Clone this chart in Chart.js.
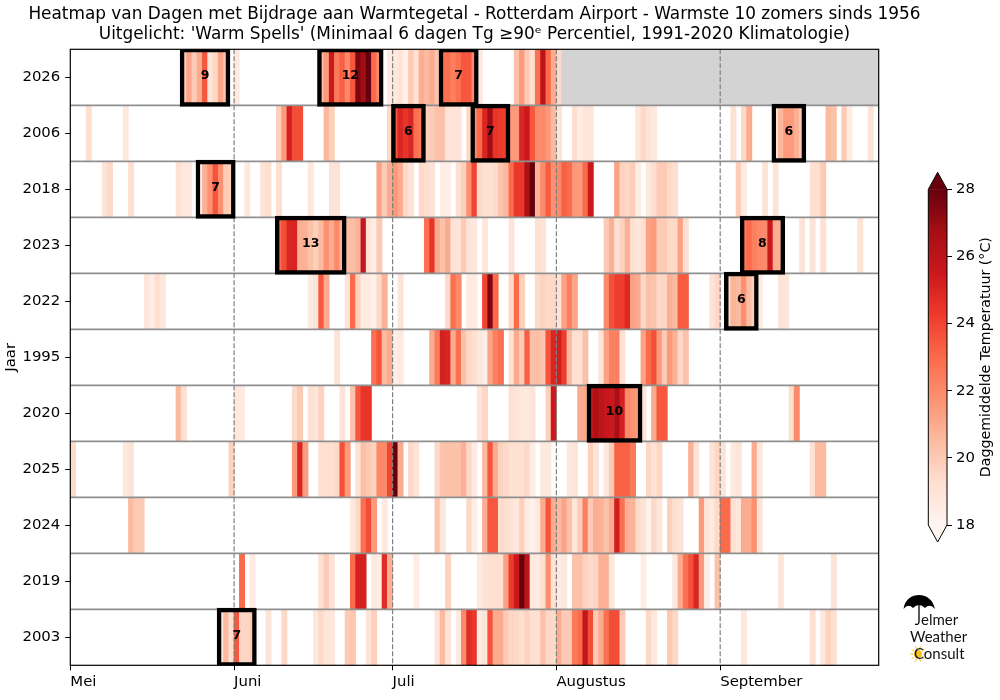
<!DOCTYPE html>
<html>
<head>
<meta charset="utf-8">
<script src="https://cdn.jsdelivr.net/npm/chart.js@4/dist/chart.umd.min.js"></script>
<style>
  body { margin: 0; background: #fff; }
  #wrap { position: relative; width: 1000px; height: 700px; }
  #heat { position: absolute; left: 0; top: 0; }
  #bar { position: absolute; left: 900px; top: 150px; }
</style>
</head>
<body>
<div id="wrap">
  <canvas id="heat" width="1000" height="700"></canvas>
  <canvas id="bar" width="100" height="420"></canvas>
</div>
<script>
const years = ['2026', '2006', '2018', '2023', '2022', '1995', '2020', '2025', '2024', '2019', '2003'];
const monthNames = ['Mei', 'Juni', 'Juli', 'Augustus', 'September'];
const monthStarts = [0, 31, 61, 92, 123];
const seasonDays = 153;
const lastDay2026 = 93; // after this day no data yet

const titleLines = [
    'Heatmap van Dagen met Bijdrage aan Warmtegetal - Rotterdam Airport - Warmste 10 zomers sinds 1956',
    "Uitgelicht: 'Warm Spells' (Minimaal 6 dagen Tg ≥90ᵉ Percentiel, 1991-2020 Klimatologie)"
];

// each run: first day (0 = 1 mei), then the Tg of the following days
const t2026 = [[21,19.8,21.2,20,21,23.5,19,19.6,21.2,20.3],[31,18.7],[47,20.5,21.5,25.5,22.5,23.3,22,23.5,27.5,26.8,28,23,22],[60,18.6,18.7,19,18.3,20,19.2,20.9,20.5,21,20.2,22.8,22.8,22.3,22.8,23.5,23.5,22,18.7],[84,20.3,21.5,20,19.3,22.8,26,23,21,19.5]];
const t2006 = [[3,19.3],[10,18.7],[39,19.8,21.5,25.2,23.8,23.8],[48,20.6,19.8],[60,19.5,23.5,25,24.5,25,22.8,22.5,19.8,20,20.3,20.3,19,19,19],[75,19.5,22,23,25,26.8,24.5,24.3,24.2,21.5,21.5,25,25.5,23.5,22,22,21.5,20.5,19],[95,19.3,18.5,18.9,18.9],[107,18.9,19.5,19.1,18.7],[125,19.2],[127,19.5,21],[133,19.2,20.6,21.5,21.5,20.8,20],[143,20.5,20.3],[146,20,18.5],[151,19]];
const t2018 = [[6,19,19.5],[11,19.2],[20,19.2,18.8,18.8],[24,18.3,20.8,21.8,23.6,21.8,20,19.8],[33,18.7],[36,19.1,19.3],[39,19.3],[45,18.8],[49,19,19],[58,21.2,20,21,21.6,21,19.5,19],[66,19.5,19.3,19],[70,18.4,18.4],[73,19.3,19.8,21.8,24,19.5,19.2,19.2,19.4,20.2,20.6,23,24.4,24.4,26.5,28,20.7,22,23.4,21.8,22,23.3,23,21.6,21.5,23,25.5],[103,21.3,19.7,19.6,19.9,18.5],[109,18.7,19.3,20,20,19.5,19.3],[126,19.9,18.6],[131,19.1],[133,19],[140,19.2,19.3,20]];
const t2023 = [[39,22.8,23.8,25,25.1,20.8,20.8,20.3,19.8,20.5,21.8,21,22,20.7,20.4,20.4,20.7,25.7,19,18.5,20],[67,22.8,24.5,21,20.3,21,19,19,20,19,18.8],[78,18.9],[83,19],[88,19.3,19],[101,20,20.8,19.2,19.7,20.8,19.2,18.8,19.3,21.3,21.5,20,20,19.5,19.5,21.3,19.3],[127,22.5,23,22.3,22,22,25.5,21,20.8],[138,19],[140,19],[142,19.2],[149,19.1]];
const t2022 = [[14,18.9,18.4,19.3,18.8],[45,18.6,19,23.5,21],[52,19.1,23,19.7,18.6,18.6,18.3,19.5,20.8],[62,19],[71,19.5,22.8,22],[75,18.6,18.5],[78,24,27.5,23],[83,19.5,23,19.8],[88,19.4,19.7,19.5,19.5,19,21.3,22.3,21.2],[101,22,23.7,24.2,24.2,24.9,21.3,21,19.5,20.3,20.2,19.5,19.6,20.8,20.5,23.4,23.4],[121,19,19.5],[124,19.5,20.7,20.5,21.8,20.4,19.8,18.5],[134,19,18.9]];
const t1995 = [[50,19],[57,22.8,23.6,20.5,21,18.4,18.7],[68,21,22.5,25.2,25,21,22.8,20.3,19.5,19.3,18.8,18.4,21.2,22.3,22.8],[83,19.2,21,20,23.3,20.3,20.4,20.2,23.6,25,25.3,24.2,20.5,19.3,19.2,20.3],[100,19,21.3,22.3,22.3,19.2],[108,21.3,23,23.7,21.5,20,21.5,20.8,19.5,20.3]];
const t2020 = [[20,20.5,19.2],[31,18.8,18.6],[42,19.4,20],[45,19.2,18.9,19.7],[51,19],[53,20.2,23.5,24.5,24.5],[77,19,19.6],[83,19.2,19,18.8,18.7,19],[90,19.8,25.5],[96,21,21,25.8,26.5,26,25.6,25.5,26.6,25.2,22,21.7,21.6,19],[110,21,23.5,23.5],[136,19.3,22]];
const t2025 = [[0,19.5],[10,18.7,19],[30,19.7],[42,21.5,25,21.4],[47,19.3,19.3,19.3,19.5,23.7,21.5],[54,19.2,20.4,20,19.7,22,22,24,28,21],[64,19.5,19],[69,19.5,20.2,20.3,20.3,20.3,20.8,19.5,18.6],[78,20.5,23.5,21,19.7,19.5,19.2,19.2,19.2,19.5,18.5],[89,18.7,18.7],[94,18.8,19],[98,19.8,19],[101,18.8,20,23.2,23.2,23.2,22.5],[109,19.6,19,19.6],[117,20.8,19],[121,19,19.6,19],[125,18.7,19],[129,21,18.7],[140,19.2,20.5,20.5]];
const t2024 = [[11,20.5,20,20],[53,18.7,19.5,22.8,23.8,21.5],[59,18.7],[69,20.2,18.8],[75,19.5,18.4],[78,20.9,23.5,23.5,19.4,19.3,19.1,18.8,19.8,18.6,18.2,18.7,21,23.6,21,20.5,21.2,20.3,18.9,19.9,22.3,20,20.9,20.8,20.3,21,25.3,22.8,20.8,20.7,19.4,19,18.3,19.5,18.9],[113,19.8,19.3,19],[119,21.5,19,18.7,19.5,23,23,19.2,18.8,21,21,21.8,19]];
const t2019 = [[32,23],[34,18.6],[47,19.2,20,19],[53,23,25.2,25.2],[57,18.7,18.5,24.8,20.8],[65,18.5],[71,19.7],[77,18.7,19,19.3,19.3,19.2,21.3,24.3,25.5,28,26,18.7,18.6,19.2,21.8,19,18.6,18.8],[95,20.3,20.3,19.7,19.5,19.6,20.8,20.8,18.7],[108,18.4],[114,18.7,21,22.8,23.7,25,21.5,18.5],[122,20.3],[134,18.9],[144,19]];
const t2003 = [[28,18.9,20.5,19.3,23.5,19.6,19.6,20],[37,19],[40,19.5],[46,18.8,19.5,18.9,18.9],[52,20,20.1],[56,19,19.8],[69,19,20.5,19],[73,18.6,22,24.8,24.4,18.6,19,23.6,21,21,20,19.6,19.5,19.3,19.7,19.3,19.2,20.3,19.5,19.4,21,20,20,22.5,23,25.8,23.8,20,21,22.8,23.8,23.8,20],[109,19.5,18.8],[113,20,19.5],[127,18.8],[140,19.3],[142,18.8,19.7,19.2]];

// warm spells: year, first day, number of days
const spellYears = ['2026','2026','2026','2006','2006','2006','2018','2023','2023','2022','2020','2003'];
const spellStarts = [21, 47, 70, 61, 76, 133, 24, 39, 127, 124, 98, 28];
const spellLengths = [9, 12, 7, 6, 7, 6, 7, 13, 8, 6, 10, 7];

const cbMin = 18, cbMax = 28;
const reds = ['#fff5f0','#fee0d2','#fcbba1','#fc9272','#fb6a4a','#ef3b2c','#cb181d','#a50f15','#67000d'];

const FONT = "'DejaVu Sans'";
Chart.defaults.font.family = FONT;
Chart.defaults.color = '#000';
Chart.defaults.animation = false;

function hexRgb(h) {
    return [1, 3, 5].map(i => parseInt(h.substr(i, 2), 16));
}

// same as matplotlib 'Reds'
function redColor(t) {
    const f = Math.min(1, Math.max(0, (t - cbMin) / (cbMax - cbMin))) * (reds.length - 1);
    const i = Math.min(reds.length - 2, Math.floor(f));
    const a = hexRgb(reds[i]), b = hexRgb(reds[i + 1]);
    const c = a.map((v, k) => Math.round(v + (b[k] - v) * (f - i)));
    return `rgb(${c[0]},${c[1]},${c[2]})`;
}

const rows = [t2026, t2006, t2018, t2023, t2022, t1995, t2020, t2025, t2024, t2019, t2003];
const cells = [];
rows.forEach((runs, r) => {
    runs.forEach(run => {
        run.slice(1).forEach((t, k) => {
            const d = run[0] + k;
            cells.push({ y: years[r], x: [d, d + 1], t: t });
        });
    });
});
const spells = spellYears.map((y, i) => ({ y: y, x: [spellStarts[i], spellStarts[i] + spellLengths[i]], n: spellLengths[i] }));

const heatPlugin = {
    id: 'heatExtras',
    afterDatasetDraw(chart, args) {
        // row lines and month lines go over the cells but under the spell boxes
        if (args.index !== 1) return;
        const { ctx, chartArea: a, scales: { x, y } } = chart;
        ctx.save();
        ctx.strokeStyle = '#909090';
        ctx.lineWidth = 1.7;
        years.forEach((_, i) => {
            if (i === 0) return;
            const p = (y.getPixelForValue(i - 1) + y.getPixelForValue(i)) / 2;
            ctx.beginPath();
            ctx.moveTo(a.left, p);
            ctx.lineTo(a.right, p);
            ctx.stroke();
        });
        ctx.strokeStyle = '#808080';
        ctx.lineWidth = 1.2;
        ctx.setLineDash([5, 2]);
        monthStarts.slice(1).forEach(m => {
            const p = x.getPixelForValue(m);
            ctx.beginPath();
            ctx.moveTo(p, a.top);
            ctx.lineTo(p, a.bottom);
            ctx.stroke();
        });
        ctx.restore();
    },
    afterDatasetsDraw(chart) {
        const { ctx, chartArea: a, scales: { x, y } } = chart;
        ctx.save();
        ctx.fillStyle = '#000';
        ctx.font = `bold 12.5px ${FONT}`;
        ctx.textAlign = 'center';
        ctx.textBaseline = 'middle';
        spells.forEach(s => {
            ctx.fillText(String(s.n), x.getPixelForValue((s.x[0] + s.x[1]) / 2), y.getPixelForValue(years.indexOf(s.y)) - 1.5);
        });
        ctx.strokeStyle = '#000';
        ctx.lineWidth = 1.2;
        ctx.strokeRect(a.left, a.top, a.right - a.left, a.bottom - a.top);
        // title, the title plugin squeezes it into the plot width
        ctx.font = `16.9px ${FONT}`;
        titleLines.forEach((line, i) => ctx.fillText(line, (a.left + a.right) / 2, 14.5 + i * 20));
        ctx.restore();
    },
    afterDraw(chart) {
        drawLogo(chart.ctx);
    }
};

function drawLogo(ctx) {
    ctx.save();
    ctx.fillStyle = '#000';
    ctx.strokeStyle = '#000';
    // umbrella
    ctx.beginPath();
    ctx.moveTo(903.5, 609);
    ctx.bezierCurveTo(905, 599, 912, 595, 919, 595);
    ctx.bezierCurveTo(927, 595, 933, 600, 935, 609);
    ctx.quadraticCurveTo(930, 603, 925, 608);
    ctx.quadraticCurveTo(919, 602, 913, 608);
    ctx.quadraticCurveTo(908, 603, 903.5, 609);
    ctx.fill();
    ctx.lineWidth = 1.3;
    ctx.beginPath();
    ctx.moveTo(919, 604);
    ctx.lineTo(919, 622);
    ctx.quadraticCurveTo(918.5, 625.5, 915, 624);
    ctx.stroke();
    // sun
    const sx = 918, sy = 654;
    ctx.fillStyle = '#f7c21a';
    ctx.beginPath();
    ctx.arc(sx, sy, 4, 0, Math.PI * 2);
    ctx.fill();
    ctx.strokeStyle = '#f7c21a';
    ctx.lineWidth = 1;
    for (let i = 0; i < 10; i++) {
        const an = i * Math.PI / 5;
        ctx.beginPath();
        ctx.moveTo(sx + Math.cos(an) * 5, sy + Math.sin(an) * 5);
        ctx.lineTo(sx + Math.cos(an) * 8, sy + Math.sin(an) * 8);
        ctx.stroke();
    }
    ctx.fillStyle = '#111';
    ctx.font = "400 15px Lato";
    ctx.textAlign = 'left';
    ctx.textBaseline = 'alphabetic';
    ctx.fillText('elmer', 921, 625);
    ctx.fillText('Weather', 910, 642);
    ctx.fillText('Consult', 914, 659);
    ctx.restore();
}

new Chart(document.getElementById('heat'), {
    type: 'bar',
    data: {
        labels: years,
        datasets: [
            {
                // warm spell boxes
                data: spells,
                order: 0,
                backgroundColor: 'rgba(0,0,0,0)',
                borderColor: '#000',
                borderWidth: 1.5,
                borderSkipped: false,
                inflateAmount: 1.5,
                barPercentage: 1,
                categoryPercentage: 1
            },
            {
                // 2026 not finished yet
                data: [{ y: years[0], x: [lastDay2026, seasonDays] }],
                order: 1,
                backgroundColor: '#d3d3d3',
                barPercentage: 1,
                categoryPercentage: 1
            },
            {
                data: cells,
                order: 2,
                backgroundColor: c => redColor(c.raw.t),
                barPercentage: 1,
                categoryPercentage: 1
            }
        ]
    },
    plugins: [heatPlugin],
    options: {
        indexAxis: 'y',
        responsive: false,
        devicePixelRatio: 1,
        events: [],
        layout: { padding: { left: 0, right: 121.3, top: 49.3, bottom: 4.7 } },
        datasets: { bar: { grouped: false } },
        plugins: {
            legend: { display: false },
            tooltip: { enabled: false }
        },
        scales: {
            x: {
                type: 'linear',
                min: 0,
                max: seasonDays,
                afterBuildTicks: s => { s.ticks = monthStarts.map(v => ({ value: v })); },
                afterFit: s => { s.height = 30; },
                border: { display: false },
                grid: { drawOnChartArea: false, drawTicks: true, tickLength: 5, tickColor: '#000', tickWidth: 1 },
                ticks: {
                    callback: v => monthNames[monthStarts.indexOf(v)],
                    autoSkip: false,
                    maxRotation: 0,
                    align: 'start',
                    padding: 3,
                    color: '#000',
                    font: { size: 14.9 }
                }
            },
            y: {
                type: 'category',
                afterFit: s => { s.width = 70.3; },
                border: { display: false },
                grid: { offset: false, drawOnChartArea: false, drawTicks: true, tickLength: 5, tickColor: '#000', tickWidth: 1 },
                title: { display: true, text: 'Jaar', color: '#000', font: { size: 14.9 }, padding: { top: 2, bottom: 0 } },
                ticks: { padding: 5, color: '#000', font: { size: 14.9 } }
            }
        }
    }
});

// colour bar
const cbPlugin = {
    id: 'cbExtras',
    afterDatasetsDraw(chart) {
        const { ctx, chartArea: a, scales: { y } } = chart;
        const top = y.getPixelForValue(cbMax), bot = y.getPixelForValue(cbMin);
        const mid = (a.left + a.right) / 2, ext = 17;
        ctx.save();
        ctx.fillStyle = reds[reds.length - 1];
        ctx.beginPath();
        ctx.moveTo(a.left, top + 0.5);
        ctx.lineTo(mid, top - ext);
        ctx.lineTo(a.right, top + 0.5);
        ctx.fill();
        ctx.fillStyle = reds[0];
        ctx.beginPath();
        ctx.moveTo(a.left, bot);
        ctx.lineTo(mid, bot + ext);
        ctx.lineTo(a.right, bot);
        ctx.fill();
        ctx.strokeStyle = '#000';
        ctx.lineWidth = 1;
        ctx.beginPath();
        ctx.moveTo(a.left, top);
        ctx.lineTo(mid, top - ext);
        ctx.lineTo(a.right, top);
        ctx.lineTo(a.right, bot);
        ctx.lineTo(mid, bot + ext);
        ctx.lineTo(a.left, bot);
        ctx.closePath();
        ctx.stroke();
        ctx.fillStyle = '#000';
        ctx.font = `14.2px ${FONT}`;
        ctx.textAlign = 'center';
        ctx.textBaseline = 'middle';
        ctx.translate(a.right + 39, (top + bot) / 2);
        ctx.rotate(-Math.PI / 2);
        ctx.fillText('Daggemiddelde Temperatuur (°C)', 0, 0);
        ctx.restore();
    }
};

new Chart(document.getElementById('bar'), {
    type: 'bar',
    data: {
        labels: ['Tg'],
        datasets: [{
            data: [[cbMin, cbMax]],
            barPercentage: 1,
            categoryPercentage: 1,
            backgroundColor: c => {
                const sc = c.chart.scales.y;
                if (!c.chart.chartArea) return reds[4]; // not laid out yet
                const g = c.chart.ctx.createLinearGradient(0, sc.getPixelForValue(cbMin), 0, sc.getPixelForValue(cbMax));
                reds.forEach((col, i) => g.addColorStop(i / (reds.length - 1), col));
                return g;
            }
        }]
    },
    plugins: [cbPlugin],
    options: {
        responsive: false,
        devicePixelRatio: 1,
        events: [],
        layout: { padding: { left: 28.3, right: 0, top: 39.3, bottom: 45 } },
        plugins: { legend: { display: false }, tooltip: { enabled: false } },
        scales: {
            x: { display: false },
            y: {
                position: 'right',
                min: cbMin,
                max: cbMax,
                afterFit: s => { s.width = 53; },
                border: { display: false },
                grid: { drawOnChartArea: false, drawTicks: true, tickLength: 5, tickColor: '#000', tickWidth: 1 },
                ticks: { stepSize: 2, padding: 4, color: '#000', font: { size: 14.9 } }
            }
        }
    }
});
</script>
</body>
</html>
